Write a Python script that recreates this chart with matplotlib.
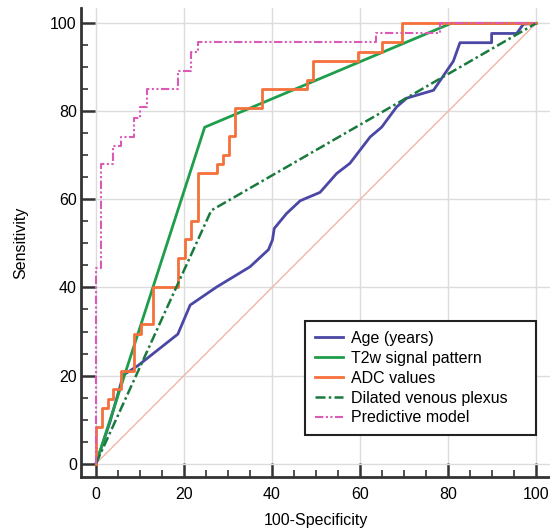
import numpy as np
import matplotlib
matplotlib.use("Agg")
import matplotlib.pyplot as plt
from matplotlib.ticker import MultipleLocator

plt.rcParams['font.family'] = ['Liberation Sans', 'DejaVu Sans']

# ROC data (100-Specificity, Sensitivity)
age_fpr = [0, 3.2, 6.2, 9.6, 18.6, 21.4, 27.4, 35.0, 39.2, 40.1, 40.5, 43.3, 46.4, 50.9,
           54.7, 57.7, 62.3, 64.9, 68.3, 70.6, 76.7, 81.2, 82.7, 89.9, 89.9, 95.6, 97.1, 100]
age_tpr = [0, 9.5, 20.1, 22.3, 29.4, 36.0, 40.1, 44.7, 48.6, 50.8, 53.4, 56.8, 59.7, 61.6,
           65.9, 68.2, 74.2, 76.4, 81.0, 83.0, 84.8, 91.4, 95.6, 95.6, 97.7, 97.7, 99.8, 100]

t2w_fpr = [0, 24.7, 80.7, 100]
t2w_tpr = [0, 76.4, 100, 100]

adc_fpr = [0, 0, 1.3, 2.7, 3.9, 5.6, 8.6, 10.2, 13.0, 18.7, 20.2, 21.5, 23.1, 27.4,
           28.9, 30.2, 31.5, 37.7, 47.9, 49.2, 59.5, 65.1, 69.6, 100]
adc_tpr = [0, 8.2, 12.6, 14.6, 16.9, 21.0, 29.5, 31.8, 40.1, 46.6, 51.0, 55.1, 65.9, 68.0,
           70.1, 74.4, 80.7, 85.0, 87.1, 91.4, 93.5, 95.7, 100, 100]

dvp_fpr = [0, 26.2, 100]
dvp_tpr = [0, 57.5, 100]

pm_fpr = [0, 0, 1.1, 3.9, 5.7, 8.6, 10.0, 11.5, 18.7, 21.6, 23.1, 63.6, 78.2, 100]
pm_tpr = [0, 44.4, 68.0, 72.2, 74.2, 78.6, 80.9, 85.0, 89.2, 93.5, 95.7, 97.9, 100, 100]

labels = ["Age (years)", "T2w signal pattern", "ADC values",
          "Dilated venous plexus", "Predictive model"]

fig = plt.figure(figsize=(5.5, 5.28), dpi=100)
ax = fig.add_axes([0.1473, 0.097, 0.853, 0.888])

ax.grid(True, which='major', color='#dcdcdc', linewidth=1)
ax.set_axisbelow(True)

# chance line
ax.plot([0, 100], [0, 100], color='#f2b5a5', linewidth=1)

ax.plot(age_fpr, age_tpr, color='#4b47a6', linewidth=2, label=labels[0])
ax.plot(t2w_fpr, t2w_tpr, color='#1e9e4a', linewidth=2, label=labels[1])
ax.plot(adc_fpr, adc_tpr, color='#f5703a', linewidth=2, drawstyle='steps-post', label=labels[2])
ax.plot(dvp_fpr, dvp_tpr, color='#1a7a3e', linewidth=1.8, dashes=(4, 1.3, 1, 1.3), label=labels[3])
ax.plot(pm_fpr, pm_tpr, color='#d95bb5', linewidth=1.5, drawstyle='steps-post',
        dashes=(4, 1.2, 1, 1.2, 1, 1.2), label=labels[4])

ax.set_xlim(-3.4, 103.2)
ax.set_ylim(-3.0, 103.5)
ax.xaxis.set_major_locator(MultipleLocator(20))
ax.yaxis.set_major_locator(MultipleLocator(20))
ax.xaxis.set_minor_locator(MultipleLocator(5))
ax.yaxis.set_minor_locator(MultipleLocator(5))

for s in ['top', 'right']:
    ax.spines[s].set_visible(False)
for s in ['left', 'bottom']:
    ax.spines[s].set_linewidth(2)
    ax.spines[s].set_color('#333333')

ax.tick_params(which='major', direction='in', length=10, width=1.8, color='#333333', labelsize=11.5)
ax.tick_params(which='minor', direction='in', length=5, width=1.2, color='#333333')
ax.tick_params(axis='x', which='major', pad=7)
ax.tick_params(axis='y', which='major', pad=3)

ax.set_xlabel("100-Specificity", fontsize=11.5, labelpad=8)
ax.set_ylabel("Sensitivity", fontsize=11.5, labelpad=16)

leg = ax.legend(loc='lower left', bbox_to_anchor=(0.4776, 0.089, 0.4925, 0.24),
                mode='expand', fontsize=11.5,
                fancybox=False, framealpha=1, edgecolor='#222222',
                handlelength=1.75, handletextpad=0.5, labelspacing=0.31,
                borderpad=0.6, borderaxespad=0)
leg.get_frame().set_linewidth(1.5)

fig.savefig("out.png", dpi=100)
